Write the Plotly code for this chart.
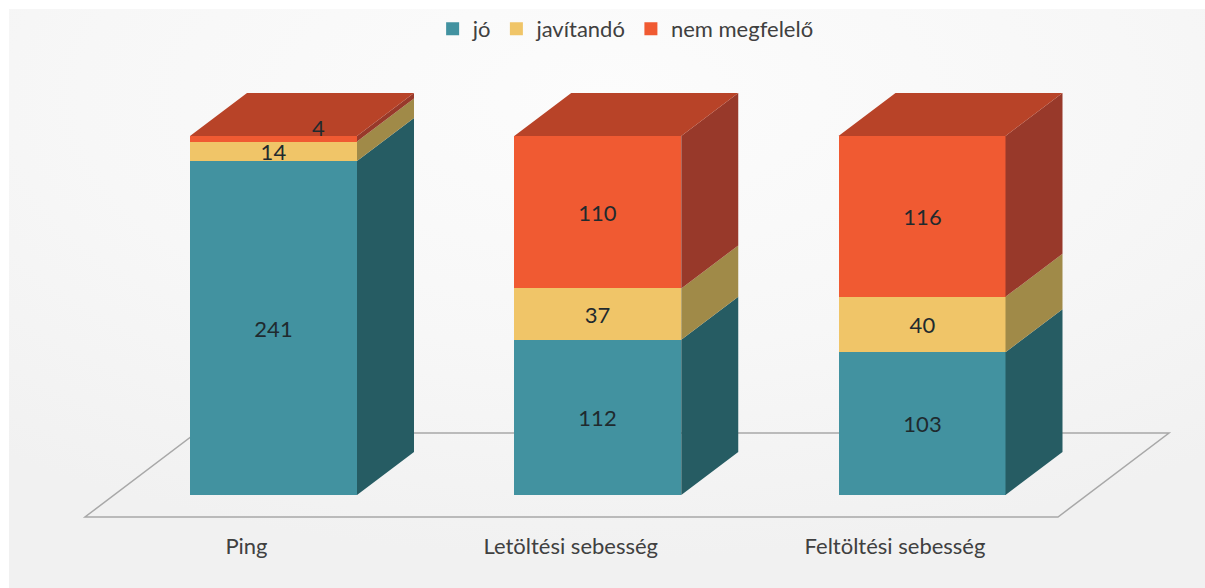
import base64
import plotly.graph_objects as go

categories = ["Ping", "Letöltési sebesség", "Feltöltési sebesség"]
series_names = ["jó", "javítandó", "nem megfelelő"]
jo = [241, 112, 103]
javitando = [14, 37, 40]
nem_megfelelo = [4, 110, 116]
values = [jo, javitando, nem_megfelelo]

front_colors = ["#4292a0", "#f0c568", "#f05a32"]
side_colors = ["#265c63", "#a08a48", "#98392a"]
top_color = "#b84328"
label_color = "#1f2a2e"

W, H = 1205, 588
BOTTOM_MARGIN = 58
PX_X = 324.25   # pixels per category step
PX_Y = 1.386    # pixels per unit
X0_PX, Y0_PX = 273.5, 495
BAR_W = 167 / PX_X
DX = 57 / PX_X
DY = 43 / PX_Y
FONT_SIZE = 22
xs = list(range(len(categories)))

svg = ('<svg xmlns="http://www.w3.org/2000/svg" width="1196" height="579" preserveAspectRatio="none">'
       '<defs><radialGradient id="g" cx="50%" cy="15%" r="80%">'
       '<stop offset="0" stop-color="#fcfcfc"/><stop offset="0.55" stop-color="#f7f7f7"/>'
       '<stop offset="1" stop-color="#f1f1f1"/></radialGradient></defs>'
       '<rect width="1196" height="579" fill="url(#g)"/></svg>')
bg_uri = "data:image/svg+xml;base64," + base64.b64encode(svg.encode()).decode()

fig = go.Figure()

# Floor outline, in data units
fy0, fy1 = -22 / PX_Y, 62 / PX_Y
fx0, fx1 = (85 - X0_PX) / PX_X, (1058 - X0_PX) / PX_X
fshift = 111 / PX_X
floor_path = f"M {fx0} {fy0} L {fx1} {fy0} L {fx1 + fshift} {fy1} L {fx0 + fshift} {fy1} Z"
fig.add_shape(type="path", path=floor_path, xref="x", yref="y", layer="below",
              line=dict(color="#a8a8a8", width=1.5), fillcolor="rgba(0,0,0,0)")

# Front faces
for name, vals, color in zip(series_names, values, front_colors):
    labels = [str(v) if v >= 10 else "" for v in vals]
    fig.add_trace(go.Bar(x=xs, y=vals, name=name, width=BAR_W, showlegend=False,
                         marker=dict(color=color, line=dict(width=0)),
                         text=labels, textposition="inside", insidetextanchor="middle",
                         constraintext="none", textangle=0,
                         textfont=dict(family="Lato", size=FONT_SIZE, color=label_color)))

# Side faces from the stacked data
base = [0] * len(categories)
for name, vals, color in zip(series_names, values, side_colors):
    px, py = [], []
    for i, v in enumerate(vals):
        xr = xs[i] + BAR_W / 2
        b, t = base[i], base[i] + v
        px += [xr, xr + DX, xr + DX, xr, xr, None]
        py += [b, b + DY, t + DY, t, b, None]
        base[i] = t
    fig.add_trace(go.Scatter(x=px, y=py, mode="lines", fill="toself", fillcolor=color,
                             line=dict(width=0, color=color), showlegend=False, hoverinfo="skip"))

# Top faces
px, py = [], []
for i, T in enumerate(base):
    xl, xr = xs[i] - BAR_W / 2, xs[i] + BAR_W / 2
    px += [xl, xl + DX, xr + DX, xr, xl, None]
    py += [T, T + DY, T + DY, T, T, None]
fig.add_trace(go.Scatter(x=px, y=py, mode="lines", fill="toself", fillcolor=top_color,
                         line=dict(width=0, color=top_color), showlegend=False, hoverinfo="skip"))

# Legend entries
for name, color in zip(series_names, front_colors):
    fig.add_trace(go.Scatter(x=[None], y=[None], mode="markers", name=name,
                             marker=dict(symbol="square", size=13, color=color)))

# The label of the thin segment is displaced onto the top face
for i, v in enumerate(nem_megfelelo):
    if v < 10:
        fig.add_annotation(x=xs[i], y=jo[i] + javitando[i] + v / 2, text=str(v), showarrow=False,
                           xshift=44.5, yshift=11.5,
                           font=dict(family="Lato", size=FONT_SIZE, color=label_color))

fig.update_layout(
    width=W, height=H,
    margin=dict(l=0, r=0, t=0, b=BOTTOM_MARGIN, pad=0),
    barmode="stack", bargap=0,
    paper_bgcolor="white", plot_bgcolor="rgba(0,0,0,0)",
    font=dict(family="Lato", size=FONT_SIZE, color="#404040"),
    showlegend=True,
    legend=dict(orientation="h", x=0.525 - 7 / W, xanchor="center", y=1 - 8 / (H - BOTTOM_MARGIN), yanchor="top",
                bgcolor="rgba(0,0,0,0)", font=dict(family="Lato", size=FONT_SIZE, color="#404040"),
                traceorder="normal"),
    images=[dict(source=bg_uri, xref="paper", yref="paper", x=9 / W, y=1 - 9 / (H - BOTTOM_MARGIN),
                 sizex=1196 / W, sizey=579 / (H - BOTTOM_MARGIN), sizing="stretch",
                 xanchor="left", yanchor="top", layer="below")],
    xaxis=dict(range=[-X0_PX / PX_X, (W - X0_PX) / PX_X], showgrid=False, zeroline=False, showline=False,
               tickmode="array", tickvals=[x - 27 / PX_X for x in xs], ticktext=categories,
               ticks="", ticklabelstandoff=1,
               tickfont=dict(family="Lato", size=FONT_SIZE, color="#404040")),
    yaxis=dict(range=[(Y0_PX - (H - BOTTOM_MARGIN)) / PX_Y, Y0_PX / PX_Y], visible=False),
)
fig.write_html("out.html", config=dict(displayModeBar=False),
               post_script="document.body.style.margin='0';document.documentElement.style.overflow='hidden';")
